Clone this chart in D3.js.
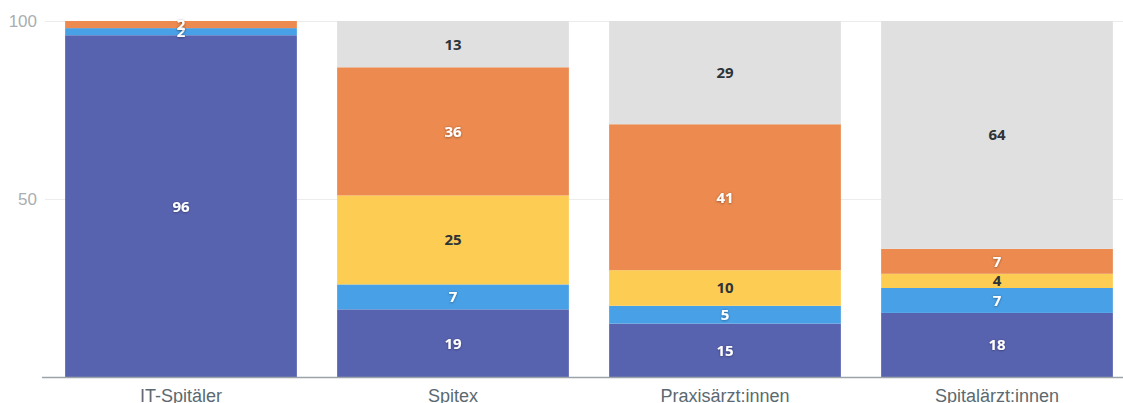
<!DOCTYPE html>
<html>
<head>
<meta charset="utf-8">
<script src="https://cdn.jsdelivr.net/npm/d3@7"></script>
<style>
  body { margin: 0; background: #fff; }
  svg { display: block; font-family: "Open Sans", "Noto Sans", sans-serif; }
  .val { font-size: 15px; font-weight: 700; }
</style>
</head>
<body>
<script>
var categories = ["IT-Spitäler", "Spitex", "Praxisärzt:innen", "Spitalärzt:innen"];
var seriesKeys = ["s1", "s2", "s3", "s4", "s5"];
var s1 = [96, 19, 15, 18];
var s2 = [2, 7, 5, 7];
var s3 = [0, 25, 10, 4];
var s4 = [2, 36, 41, 7];
var s5 = [0, 13, 29, 64];
var yTicks = [50, 100];

var colors = ["#5863b0", "#48a0e7", "#fdcc53", "#ec8a4f", "#e0e0e0"];
var labelColors = ["#fff", "#fff", "#2e3338", "#fff", "#2e3338"];

var width = 1123, height = 403;
var margin = {top: 21, left: 45, bottom: 26};

var data = categories.map(function(c, i) {
  return {cat: c, s1: s1[i], s2: s2[i], s3: s3[i], s4: s4[i], s5: s5[i]};
});

var stack = d3.stack().keys(seriesKeys)(data);

var xScale = d3.scaleBand().domain(categories)
    .range([margin.left, 1133]).paddingInner(0.148).paddingOuter(0.074);
var yScale = d3.scaleLinear().domain([0, 100]).range([height - margin.bottom, margin.top]);

var svg = d3.select("body").append("svg")
    .attr("width", width)
    .attr("height", height);

var defs = svg.append("defs");
defs.append("filter").attr("id", "sh")
    .attr("x", "-20%").attr("y", "-20%").attr("width", "140%").attr("height", "140%")
  .append("feDropShadow")
    .attr("dx", 0).attr("dy", 0.5).attr("stdDeviation", 0.8)
    .attr("flood-color", "#000").attr("flood-opacity", 0.45);

// grid + y labels
var yAxis = d3.axisLeft(yScale).tickValues(yTicks).tickSize(-(width - margin.left)).tickPadding(8);
svg.append("g")
    .attr("transform", "translate(" + margin.left + ",0)")
    .call(yAxis)
    .call(function(g) {
      g.select(".domain").remove();
      g.selectAll(".tick line").attr("stroke", "#ececec");
      g.selectAll(".tick text").attr("fill", "#a9aeb1").style("font-size", "17px");
    });

// bars
var layers = svg.selectAll(".layer")
    .data(stack)
  .enter().append("g")
    .attr("class", "layer")
    .attr("fill", function(d, i) { return colors[i]; });

layers.selectAll("rect")
    .data(function(d) { return d; })
  .enter().append("rect")
    .attr("x", function(d) { return xScale(d.data.cat); })
    .attr("width", xScale.bandwidth())
    .attr("y", function(d) { return yScale(d[1]); })
    .attr("height", function(d) { return yScale(d[0]) - yScale(d[1]); });

// value labels
stack.forEach(function(layer, i) {
  svg.append("g").selectAll("text")
      .data(layer.filter(function(d) { return d[1] - d[0] > 0; }))
    .enter().append("text")
      .attr("class", "val")
      .attr("x", function(d) { return xScale(d.data.cat) + xScale.bandwidth() / 2; })
      .attr("y", function(d) { return yScale((d[0] + d[1]) / 2); })
      .attr("dy", "0.36em")
      .attr("text-anchor", "middle")
      .attr("fill", labelColors[i])
      .attr("filter", labelColors[i] === "#fff" ? "url(#sh)" : null)
      .text(function(d) { return d[1] - d[0]; });
});

// x axis
var xAxis = d3.axisBottom(xScale).tickSize(0).tickPadding(12);
svg.append("g")
    .attr("transform", "translate(0," + yScale(0) + ")")
    .call(xAxis)
    .call(function(g) {
      g.select(".domain").remove();
      g.selectAll(".tick text").attr("fill", "#5b6970").style("font-size", "18px");
    });

svg.append("line")
    .attr("x1", 42).attr("x2", width)
    .attr("y1", yScale(0) + 0.5).attr("y2", yScale(0) + 0.5)
    .attr("stroke", "#9aa3a8").attr("stroke-width", 1.5);
</script>
</body>
</html>
